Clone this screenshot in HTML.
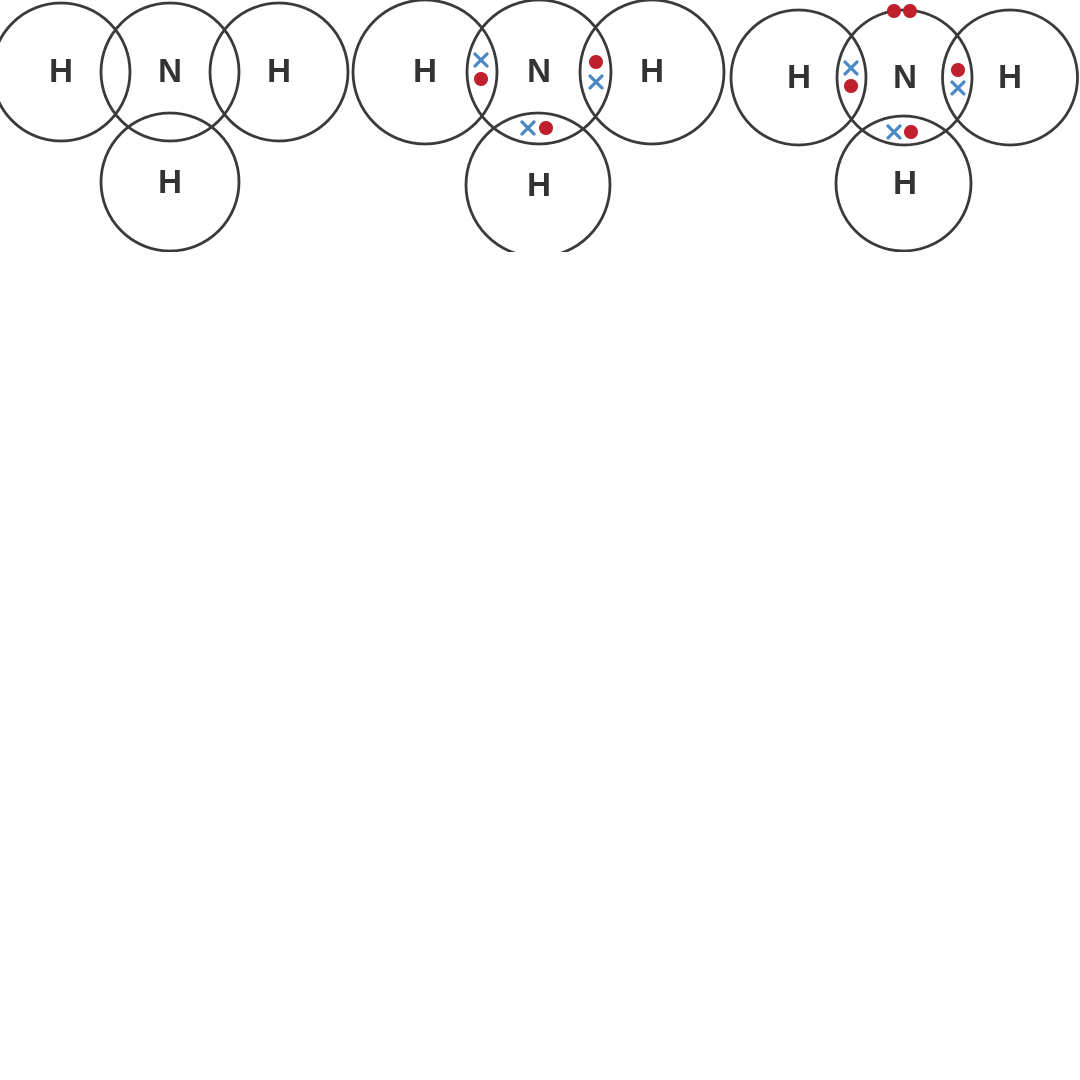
<!DOCTYPE html>
<html><head><style>html,body{margin:0;padding:0;background:#fff;width:1080px;height:1080px;overflow:hidden}</style></head>
<body>
<svg width="1080" height="1080" viewBox="0 0 1080 1080" xmlns="http://www.w3.org/2000/svg">
<defs>
<g id="x"><path d="M-6,-6L6,6M6,-6L-6,6" stroke="#4a88c8" stroke-width="3.2" stroke-linecap="round"/></g>
</defs>
<g fill="none" stroke="#3a3a3a" stroke-width="2.8">
<circle cx="61" cy="72" r="69"/><circle cx="170" cy="72" r="69"/><circle cx="279" cy="72" r="69"/><circle cx="170" cy="182" r="69"/>
<circle cx="425" cy="72" r="72"/><circle cx="539" cy="72" r="72"/><circle cx="652" cy="72" r="72"/><circle cx="538" cy="185" r="72"/>
<circle cx="798.5" cy="77.5" r="67.5"/><circle cx="904.5" cy="77.5" r="67.5"/><circle cx="1010" cy="77.5" r="67.5"/><circle cx="903.5" cy="183.5" r="67.5"/>
</g>
<g font-family="Liberation Sans, sans-serif" font-weight="bold" font-size="33" fill="#333" text-anchor="middle">
<text x="61" y="82">H</text><text x="170" y="82">N</text><text x="279" y="82">H</text><text x="170" y="193">H</text>
<text x="425" y="82">H</text><text x="539" y="82">N</text><text x="652" y="82">H</text><text x="539" y="196">H</text>
<text x="799" y="88">H</text><text x="905" y="88">N</text><text x="1010" y="88">H</text><text x="905" y="194">H</text>
</g>
<g fill="#c0202e">
<circle cx="481" cy="79" r="7"/><circle cx="596" cy="62" r="7"/><circle cx="546" cy="128" r="7"/>
<circle cx="851" cy="86" r="7"/><circle cx="958" cy="70" r="7"/><circle cx="911" cy="132" r="7"/>
<circle cx="894" cy="11" r="7"/><circle cx="910" cy="11" r="7"/>
</g>
<use href="#x" x="481" y="60"/><use href="#x" x="596" y="82"/><use href="#x" x="528" y="128"/>
<use href="#x" x="851" y="68"/><use href="#x" x="958" y="88"/><use href="#x" x="894" y="132"/>
<rect x="0" y="252" width="1080" height="828" fill="#fff"/>
</svg>
</body></html>
